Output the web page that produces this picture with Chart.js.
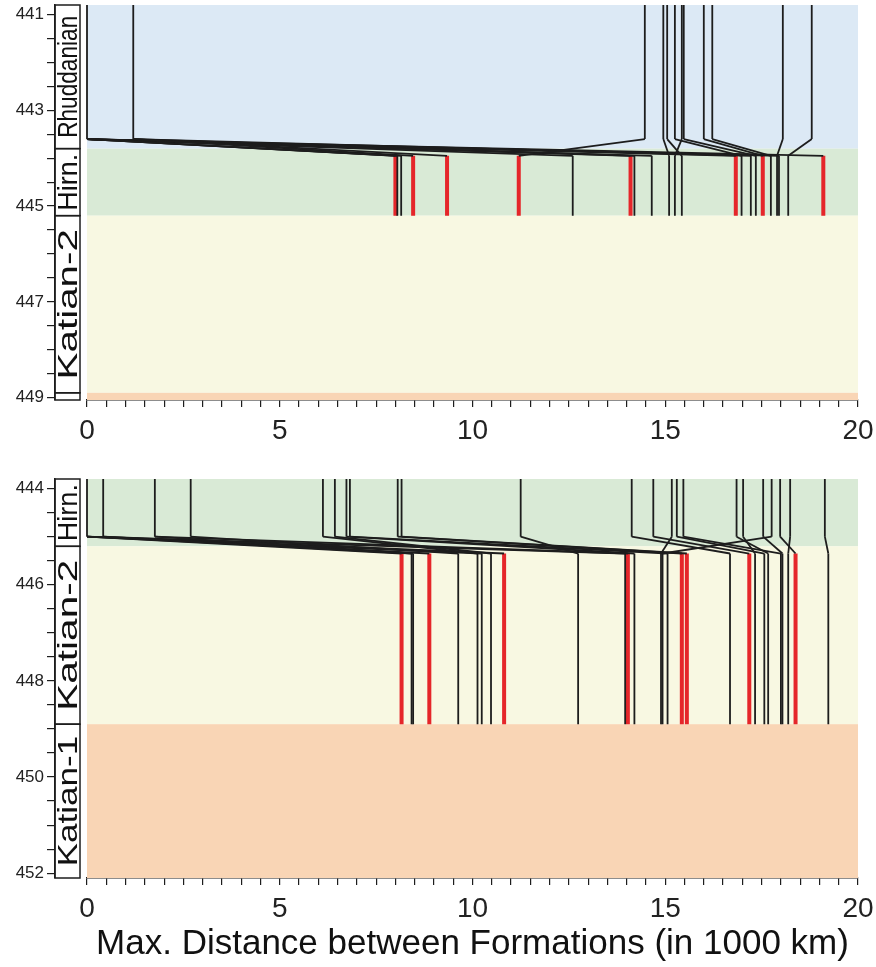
<!DOCTYPE html>
<html>
<head>
<meta charset="utf-8">
<script src="https://cdn.jsdelivr.net/npm/chart.js@4.4.1/dist/chart.umd.min.js"></script>
<style>
  body { margin: 0; background: #fff; }
  canvas { display: block; }
</style>
</head>
<body>
<canvas id="topChart" width="876" height="465"></canvas>
<canvas id="bottomChart" width="876" height="502"></canvas>
<script>
// stages (ages in Ma)
const stageNames = ['Rhuddanian', 'Hirn.', 'Katian-2', 'Katian-1'];
const stageTop = [440, 443.8, 445.2, 448.9];
const stageBase = [443.8, 445.2, 448.9, 453];

// axis tick labels
const xTickLabels = [0, 5, 10, 15, 20];
const topAgeLabels = [441, 443, 445, 447, 449];
const bottomAgeLabels = [444, 446, 448, 450, 452];

// top panel: Rhuddanian formations -> Hirnantian formations (max. distance, 1000 km)
const rhudX = [0, 1.2, 14.47, 14.95, 15.05, 15.25, 15.43, 15.48, 16.0, 16.22, 18.05, 18.8];
const rhudAges = [440.8, 443.6];
const hirnTopX = [8.0, 8.05, 8.15, 8.46, 9.34, 11.2, 12.6, 14.1, 14.2, 14.65, 15.1, 15.25, 15.43, 16.83, 16.98, 17.22, 17.35, 17.53, 17.74, 17.9, 17.95, 18.19, 19.1];
const hirnTopFrom = [0, 0, 0, 1.2, 1.2, 14.47, 0, 0, 1.2, 0, 14.95, 15.43, 15.05, 0, 15.25, 1.2, 15.48, 16.0, 16.22, 18.05, 0, 18.8, 0];
const hirnTopRed = [1, 0, 0, 1, 1, 1, 0, 1, 0, 0, 0, 0, 0, 1, 0, 0, 0, 1, 0, 0, 0, 0, 1];
const hirnTopAges = [443.95, 445.2];

// bottom panel: Hirnantian formations -> Katian-2 formations
const hirnX = [0, 0.42, 1.76, 2.69, 6.12, 6.43, 6.73, 6.82, 8.06, 8.16, 11.25, 14.13, 14.69, 15.17, 15.30, 15.47, 16.85, 17.02, 17.54, 17.76, 17.98, 18.24, 19.14];
const hirnAges = [443.8, 445.0];
const katX = [8.16, 8.42, 8.46, 8.88, 9.63, 10.13, 10.24, 10.48, 10.82, 12.74, 13.96, 14.03, 14.2, 14.89, 14.93, 15.06, 15.43, 15.56, 16.68, 17.18, 17.33, 17.57, 17.67, 18.0, 18.04, 18.19, 18.38, 19.23];
const katFrom = [0, 0.42, 1.76, 0, 2.69, 6.12, 0, 6.43, 0.42, 11.25, 0, 1.76, 6.73, 15.17, 17.76, 6.82, 8.06, 8.16, 14.13, 14.69, 17.02, 15.30, 16.85, 15.47, 17.54, 18.24, 17.98, 19.14];
const katRed = [1, 0, 0, 1, 0, 0, 0, 0, 1, 0, 0, 1, 0, 0, 0, 0, 1, 1, 0, 1, 0, 0, 0, 0, 0, 0, 1, 0];
const katAges = [445.35, 448.9];

const FONT = '"Liberation Sans", Arial, sans-serif';
const stageColors = ['#dce9f5', '#d9ead6', '#f8f8e2', '#f9d5b5'];
const INK = '#1d1d1d';
const RED = '#e5262a';

// background bands + stage label column
const stagePlugin = {
    id: 'stages',
    beforeDatasetsDraw(chart) {
        const { ctx, chartArea: a, scales: { y } } = chart;
        ctx.save();
        stageNames.forEach((n, i) => {
            const t = Math.max(y.getPixelForValue(stageTop[i]), a.top);
            const b = Math.min(y.getPixelForValue(stageBase[i]), a.bottom);
            if (b <= t) return;
            ctx.fillStyle = stageColors[i];
            ctx.fillRect(a.left, t, a.right - a.left, b - t);
        });
        ctx.restore();
    },
    afterDraw(chart) {
        const { ctx, chartArea: a, scales: { y, stage } } = chart;
        const x0 = stage.left, w = 25;
        ctx.save();
        ctx.strokeStyle = INK;
        ctx.lineWidth = 1.5;
        stageNames.forEach((n, i) => {
            const t = Math.max(y.getPixelForValue(stageTop[i]), a.top);
            const b = Math.min(y.getPixelForValue(stageBase[i]), a.bottom);
            if (b <= t) return;
            ctx.strokeRect(x0, t, w, b - t);
            if (b - t < 30) return;
            // vertical label, stretched to fill the box
            ctx.save();
            ctx.translate(x0 + w - 3, (t + b) / 2);
            ctx.rotate(-Math.PI / 2);
            ctx.font = '28px ' + FONT;
            const natural = ctx.measureText(n).width;
            ctx.scale(0.85 * (b - t) / natural, 1);
            ctx.textAlign = 'center';
            ctx.textBaseline = 'alphabetic';
            ctx.fillStyle = '#111';
            ctx.fillText(n, 0, 0);
            ctx.restore();
        });
        ctx.restore();
    }
};

const line = (pts, red) => ({
    data: pts.map(([x, y]) => ({ x, y })),
    showLine: true,
    pointRadius: 0,
    borderColor: red ? RED : INK,
    borderWidth: red ? 4 : 1.8,
    clip: 6,
});

function buildLines(upperX, upperAges, lowerX, lowerFrom, lowerRed, lowerAges) {
    const black = [], red = [];
    upperX.forEach(x => black.push(line([[x, upperAges[0]], [x, upperAges[1]]])));
    lowerX.forEach((x, i) => {
        black.push(line([[lowerFrom[i], upperAges[1]], [x, lowerAges[0]]]));
        const v = line([[x, lowerAges[0]], [x, lowerAges[1]]], lowerRed[i]);
        (lowerRed[i] ? red : black).push(v);
    });
    return black.concat(red);
}

// tick values can carry float noise, so compare loosely
const near = (v, list) => list.find(l => Math.abs(l - v) < 1e-6);

function makePanel(id, datasets, yMin, yMax, ageLabels, axisHeight, padTop, withTitle) {
    const ctx = document.getElementById(id).getContext('2d');
    return new Chart(ctx, {
        type: 'scatter',
        data: { datasets },
        options: {
            responsive: false,
            animation: false,
            events: [],
            layout: { padding: { top: padTop, right: 18, bottom: 0, left: 0 } },
            plugins: { legend: { display: false }, tooltip: { enabled: false } },
            scales: {
                x: {
                    type: 'linear',
                    min: 0,
                    max: 20,
                    border: { display: true, color: INK, width: 1.5 },
                    grid: { drawOnChartArea: false, drawTicks: true, tickLength: 7, color: INK, lineWidth: 1.2 },
                    ticks: {
                        stepSize: 0.5,
                        autoSkip: false,
                        maxRotation: 0,
                        padding: 10,
                        color: '#222',
                        font: { family: FONT, size: 28, lineHeight: 1 },
                        callback: v => near(v, xTickLabels) !== undefined ? String(near(v, xTickLabels)) : '',
                    },
                    title: {
                        display: withTitle,
                        text: 'Max. Distance between Formations (in 1000 km)',
                        color: '#111',
                        font: { family: FONT, size: 35 },
                        padding: { top: 0, bottom: 2 },
                    },
                    afterFit: s => { s.height = axisHeight; s.paddingLeft = 0; s.paddingRight = 0; },
                },
                y: {
                    type: 'linear',
                    position: 'left',
                    weight: 2,
                    reverse: true,
                    min: yMin,
                    max: yMax,
                    border: { display: true, color: INK, width: 1.5 },
                    grid: { drawOnChartArea: false, drawTicks: true, tickLength: 8, color: INK, lineWidth: 1.2 },
                    // a tick every 0.5 Ma inside the range (the library drops the ones next to min/max)
                    afterBuildTicks: s => {
                        const t = [];
                        for (let k = Math.ceil(s.min * 2); k <= Math.floor(s.max * 2); k++) t.push({ value: k / 2 });
                        s.ticks = t.reverse();
                    },
                    ticks: {
                        autoSkip: false,
                        padding: 3,
                        color: '#222',
                        font: { family: FONT, size: 17 },
                        callback: v => near(v, ageLabels) !== undefined ? String(near(v, ageLabels)) : '',
                    },
                    afterFit: s => { s.width = 55; s.paddingTop = 0; s.paddingBottom = 0; },
                },
                stage: {
                    type: 'linear',
                    axis: 'y',
                    position: 'left',
                    weight: 1,
                    display: true,
                    reverse: true,
                    min: yMin,
                    max: yMax,
                    ticks: { display: false },
                    grid: { display: false },
                    border: { display: false },
                    afterFit: s => { s.width = 32; s.paddingTop = 0; s.paddingBottom = 0; },
                },
            },
        },
        plugins: [stagePlugin],
    });
}

makePanel('topChart',
    buildLines(rhudX, rhudAges, hirnTopX, hirnTopFrom, hirnTopRed, hirnTopAges),
    440.8, 449.05, topAgeLabels, 65, 5, false);

makePanel('bottomChart',
    buildLines(hirnX, hirnAges, katX, katFrom, katRed, katAges),
    443.8, 452.1, bottomAgeLabels, 89, 14, true);
</script>
</body>
</html>
